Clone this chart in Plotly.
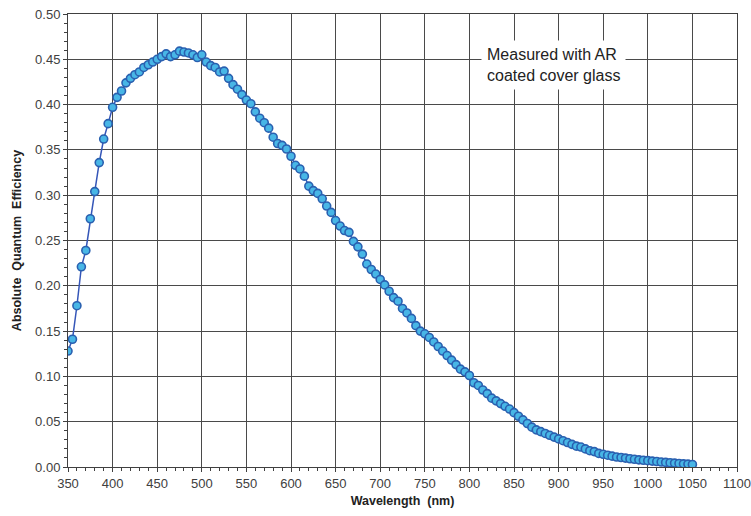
import plotly.graph_objects as go

wavelength_nm = list(range(350, 1051, 5))
quantum_efficiency = [
    0.128, 0.141, 0.178, 0.221, 0.239, 0.274, 0.304, 0.336, 0.362, 0.379,
    0.397, 0.408, 0.415, 0.424, 0.429, 0.433, 0.436, 0.441, 0.444, 0.447,
    0.450, 0.453, 0.456, 0.453, 0.455, 0.459, 0.458, 0.457, 0.455, 0.452,
    0.455, 0.447, 0.443, 0.441, 0.436, 0.437, 0.429, 0.422, 0.417, 0.411,
    0.405, 0.401, 0.392, 0.385, 0.380, 0.374, 0.364, 0.357, 0.355, 0.351,
    0.343, 0.333, 0.329, 0.321, 0.310, 0.305, 0.302, 0.296, 0.288, 0.281,
    0.272, 0.266, 0.261, 0.259, 0.249, 0.243, 0.235, 0.224, 0.218, 0.213,
    0.207, 0.201, 0.194, 0.187, 0.183, 0.175, 0.170, 0.164, 0.156, 0.150,
    0.147, 0.143, 0.138, 0.133, 0.128, 0.123, 0.118, 0.113, 0.108, 0.105,
    0.101, 0.093, 0.090, 0.085, 0.081, 0.076, 0.073, 0.070, 0.067, 0.064,
    0.060, 0.056, 0.052, 0.048, 0.044, 0.041, 0.039, 0.037, 0.035, 0.033,
    0.031, 0.029, 0.027, 0.025, 0.023, 0.022, 0.020, 0.018, 0.017, 0.015,
    0.014, 0.013, 0.012, 0.011, 0.0105, 0.0098, 0.0091, 0.0085, 0.0079, 0.0074,
    0.0070, 0.0065, 0.0060, 0.0055, 0.0051, 0.0047, 0.0043, 0.0039, 0.0035, 0.0032,
    0.0028,
]

x_title = "Wavelength  (nm)"
y_title = "Absolute  Quantum  Efficiency"
note_text = "Measured with AR<br>coated cover glass"

grid_color = "#4a4a4a"
font_family = "Liberation Sans, Arial, sans-serif"

fig = go.Figure()
fig.add_trace(go.Scatter(
    x=wavelength_nm, y=quantum_efficiency,
    mode="lines+markers",
    line=dict(color="#3556b8", width=1.5),
    marker=dict(size=8, color="#48b6e6", line=dict(color="#2a60b0", width=1.6)),
    showlegend=False,
))

fig.update_layout(
    width=751, height=516,
    margin=dict(l=68, r=14, t=14, b=49),
    paper_bgcolor="white", plot_bgcolor="white",
    font=dict(family=font_family, color="#404040", size=13),
    xaxis=dict(
        range=[350, 1100], dtick=50, tick0=350, automargin=False,
        showgrid=True, gridcolor=grid_color, gridwidth=1.1,
        showline=True, linecolor="#404040", linewidth=1, mirror=True,
        ticks="outside", ticklen=4, tickcolor="#404040",
        minor=dict(dtick=10, ticks="outside", ticklen=3, tickcolor="#404040", showgrid=False),
        zeroline=False,
        tickfont=dict(size=13, color="#404040"),
        title=dict(text="<b>" + x_title + "</b>", font=dict(size=12.5, color="#222222"), standoff=6),
    ),
    yaxis=dict(
        range=[0, 0.5], dtick=0.05, tick0=0, tickformat=".2f", automargin=False,
        showgrid=True, gridcolor=grid_color, gridwidth=1.1,
        showline=True, linecolor="#404040", linewidth=1, mirror=True,
        ticks="outside", ticklen=4, tickcolor="#404040",
        minor=dict(dtick=0.01, ticks="outside", ticklen=3, tickcolor="#404040", showgrid=False),
        zeroline=False,
        tickfont=dict(size=13, color="#404040"),
        title=dict(text="<b>" + y_title + "</b>", font=dict(size=12.5, color="#222222"), standoff=10),
    ),
    annotations=[dict(
        x=894, y=0.444, xref="x", yref="y",
        text=note_text, showarrow=False, align="left",
        font=dict(size=16, color="#222222", family=font_family),
        bgcolor="white", borderpad=5,
    )],
)

fig.write_html(
    "out.html",
    config={"displayModeBar": False},
    post_script="document.body.style.margin='0';document.body.style.overflow='hidden';",
)
